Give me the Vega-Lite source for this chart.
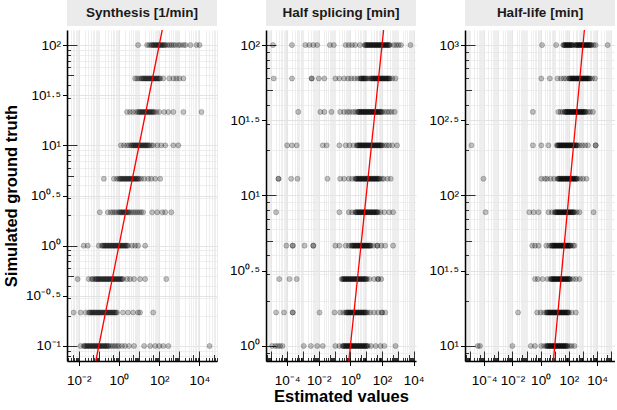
{
  "$schema": "https://vega.github.io/schema/vega-lite/v6.json",
  "background": "white",
  "padding": {"left": 3, "top": 0, "right": 0, "bottom": 0},
  "config": {
    "view": {"stroke": null},
    "font": "Liberation Sans",
    "axis": {
      "labelFont": "Liberation Sans", "labelFontSize": 13.5, "labelColor": "black",
      "labelFlush": false, "labelOverlap": false, "labelPadding": 2,
      "titleFont": "Liberation Sans", "titleFontSize": 16.5, "titleFontWeight": "bold", "titleColor": "black",
      "domainColor": "black", "domainWidth": 1.5, "tickColor": "black"
    },
    "axisBottom": {"labelPadding": 8}
  },
  "datasets": {
    "syn": [
      {"t":100,"e":8.91},{"t":100,"e":25.1},{"t":100,"e":31.6},{"t":100,"e":39.8},{"t":100,"e":44.7},{"t":100,"e":50.1},{"t":100,"e":56.2},{"t":100,"e":63.1},{"t":100,"e":70.8},{"t":100,"e":79.4},{"t":100,"e":89.1},{"t":100,"e":100},{"t":100,"e":112},{"t":100,"e":126},{"t":100,"e":141},{"t":100,"e":158},{"t":100,"e":178},{"t":100,"e":200},{"t":100,"e":251},{"t":100,"e":316},{"t":100,"e":398},{"t":100,"e":501},{"t":100,"e":631},{"t":100,"e":891},{"t":100,"e":1120},{"t":100,"e":1580},{"t":100,"e":2000},{"t":100,"e":3550},{"t":100,"e":7080},{"t":100,"e":10000},
      {"t":46.42,"e":6.31},{"t":46.42,"e":7.94},{"t":46.42,"e":10},{"t":46.42,"e":12.6},{"t":46.42,"e":14.1},{"t":46.42,"e":15.8},{"t":46.42,"e":17.8},{"t":46.42,"e":20},{"t":46.42,"e":22.4},{"t":46.42,"e":25.1},{"t":46.42,"e":28.2},{"t":46.42,"e":31.6},{"t":46.42,"e":35.5},{"t":46.42,"e":39.8},{"t":46.42,"e":44.7},{"t":46.42,"e":50.1},{"t":46.42,"e":56.2},{"t":46.42,"e":63.1},{"t":46.42,"e":70.8},{"t":46.42,"e":79.4},{"t":46.42,"e":89.1},{"t":46.42,"e":100},{"t":46.42,"e":112},{"t":46.42,"e":158},{"t":46.42,"e":316},{"t":46.42,"e":501},{"t":46.42,"e":708},{"t":46.42,"e":1000},{"t":46.42,"e":1580},
      {"t":21.54,"e":2.51},{"t":21.54,"e":3.55},{"t":21.54,"e":5.01},{"t":21.54,"e":7.08},{"t":21.54,"e":8.91},{"t":21.54,"e":10},{"t":21.54,"e":11.2},{"t":21.54,"e":12.6},{"t":21.54,"e":14.1},{"t":21.54,"e":15.8},{"t":21.54,"e":17.8},{"t":21.54,"e":20},{"t":21.54,"e":22.4},{"t":21.54,"e":25.1},{"t":21.54,"e":28.2},{"t":21.54,"e":31.6},{"t":21.54,"e":35.5},{"t":21.54,"e":39.8},{"t":21.54,"e":44.7},{"t":21.54,"e":50.1},{"t":21.54,"e":56.2},{"t":21.54,"e":70.8},{"t":21.54,"e":100},{"t":21.54,"e":178},{"t":21.54,"e":282},{"t":21.54,"e":501},{"t":21.54,"e":1580},{"t":21.54,"e":12600},
      {"t":10,"e":1.26},{"t":10,"e":1.78},{"t":10,"e":2.51},{"t":10,"e":3.16},{"t":10,"e":3.98},{"t":10,"e":4.47},{"t":10,"e":5.01},{"t":10,"e":5.62},{"t":10,"e":6.31},{"t":10,"e":7.08},{"t":10,"e":7.94},{"t":10,"e":8.91},{"t":10,"e":10},{"t":10,"e":11.2},{"t":10,"e":12.6},{"t":10,"e":14.1},{"t":10,"e":15.8},{"t":10,"e":17.8},{"t":10,"e":20},{"t":10,"e":22.4},{"t":10,"e":25.1},{"t":10,"e":28.2},{"t":10,"e":31.6},{"t":10,"e":39.8},{"t":10,"e":50.1},{"t":10,"e":79.4},{"t":10,"e":126},{"t":10,"e":200},{"t":10,"e":501},{"t":10,"e":891},
      {"t":4.642,"e":0.178},{"t":4.642,"e":0.562},{"t":4.642,"e":0.794},{"t":4.642,"e":1},{"t":4.642,"e":1.12},{"t":4.642,"e":1.26},{"t":4.642,"e":1.41},{"t":4.642,"e":1.58},{"t":4.642,"e":1.78},{"t":4.642,"e":2},{"t":4.642,"e":2.24},{"t":4.642,"e":2.51},{"t":4.642,"e":2.82},{"t":4.642,"e":3.16},{"t":4.642,"e":3.55},{"t":4.642,"e":3.98},{"t":4.642,"e":4.47},{"t":4.642,"e":5.01},{"t":4.642,"e":5.62},{"t":4.642,"e":6.31},{"t":4.642,"e":7.08},{"t":4.642,"e":7.94},{"t":4.642,"e":8.91},{"t":4.642,"e":10},{"t":4.642,"e":12.6},{"t":4.642,"e":17.8},{"t":4.642,"e":28.2},{"t":4.642,"e":39.8},{"t":4.642,"e":63.1},{"t":4.642,"e":112},
      {"t":2.154,"e":0.112},{"t":2.154,"e":0.282},{"t":2.154,"e":0.398},{"t":2.154,"e":0.501},{"t":2.154,"e":0.631},{"t":2.154,"e":0.794},{"t":2.154,"e":1},{"t":2.154,"e":1.12},{"t":2.154,"e":1.26},{"t":2.154,"e":1.41},{"t":2.154,"e":1.58},{"t":2.154,"e":1.78},{"t":2.154,"e":2},{"t":2.154,"e":2.24},{"t":2.154,"e":2.51},{"t":2.154,"e":2.82},{"t":2.154,"e":3.16},{"t":2.154,"e":3.98},{"t":2.154,"e":5.01},{"t":2.154,"e":6.31},{"t":2.154,"e":7.94},{"t":2.154,"e":10},{"t":2.154,"e":12.6},{"t":2.154,"e":15.8},{"t":2.154,"e":44.7},{"t":2.154,"e":79.4},{"t":2.154,"e":141},{"t":2.154,"e":200},{"t":2.154,"e":398},
      {"t":1,"e":0.0178},{"t":1,"e":0.0282},{"t":1,"e":0.1},{"t":1,"e":0.141},{"t":1,"e":0.158},{"t":1,"e":0.178},{"t":1,"e":0.2},{"t":1,"e":0.224},{"t":1,"e":0.251},{"t":1,"e":0.282},{"t":1,"e":0.316},{"t":1,"e":0.355},{"t":1,"e":0.398},{"t":1,"e":0.447},{"t":1,"e":0.501},{"t":1,"e":0.562},{"t":1,"e":0.631},{"t":1,"e":0.708},{"t":1,"e":0.794},{"t":1,"e":0.891},{"t":1,"e":1},{"t":1,"e":1.12},{"t":1,"e":1.26},{"t":1,"e":1.41},{"t":1,"e":1.58},{"t":1,"e":1.78},{"t":1,"e":2},{"t":1,"e":2.24},{"t":1,"e":2.51},{"t":1,"e":2.82},{"t":1,"e":4.47},{"t":1,"e":6.31},{"t":1,"e":8.91},{"t":1,"e":20},
      {"t":0.4642,"e":0.00891},{"t":0.4642,"e":0.0316},{"t":0.4642,"e":0.0447},{"t":0.4642,"e":0.0501},{"t":0.4642,"e":0.0631},{"t":0.4642,"e":0.0708},{"t":0.4642,"e":0.0794},{"t":0.4642,"e":0.0891},{"t":0.4642,"e":0.1},{"t":0.4642,"e":0.112},{"t":0.4642,"e":0.126},{"t":0.4642,"e":0.141},{"t":0.4642,"e":0.158},{"t":0.4642,"e":0.178},{"t":0.4642,"e":0.2},{"t":0.4642,"e":0.224},{"t":0.4642,"e":0.251},{"t":0.4642,"e":0.282},{"t":0.4642,"e":0.316},{"t":0.4642,"e":0.355},{"t":0.4642,"e":0.398},{"t":0.4642,"e":0.447},{"t":0.4642,"e":0.501},{"t":0.4642,"e":0.562},{"t":0.4642,"e":0.631},{"t":0.4642,"e":0.708},{"t":0.4642,"e":0.794},{"t":0.4642,"e":0.891},{"t":0.4642,"e":1},{"t":0.4642,"e":1.12},{"t":0.4642,"e":1.26},{"t":0.4642,"e":1.41},{"t":0.4642,"e":1.58},{"t":0.4642,"e":2.51},{"t":0.4642,"e":3.55},{"t":0.4642,"e":5.62},{"t":0.4642,"e":11.2},{"t":0.4642,"e":20},{"t":0.4642,"e":224},
      {"t":0.2154,"e":0.00562},{"t":0.2154,"e":0.0126},{"t":0.2154,"e":0.0224},{"t":0.2154,"e":0.0316},{"t":0.2154,"e":0.0355},{"t":0.2154,"e":0.0398},{"t":0.2154,"e":0.0447},{"t":0.2154,"e":0.0501},{"t":0.2154,"e":0.0562},{"t":0.2154,"e":0.0631},{"t":0.2154,"e":0.0708},{"t":0.2154,"e":0.0794},{"t":0.2154,"e":0.0891},{"t":0.2154,"e":0.1},{"t":0.2154,"e":0.112},{"t":0.2154,"e":0.126},{"t":0.2154,"e":0.141},{"t":0.2154,"e":0.158},{"t":0.2154,"e":0.178},{"t":0.2154,"e":0.2},{"t":0.2154,"e":0.224},{"t":0.2154,"e":0.251},{"t":0.2154,"e":0.282},{"t":0.2154,"e":0.316},{"t":0.2154,"e":0.355},{"t":0.2154,"e":0.398},{"t":0.2154,"e":0.447},{"t":0.2154,"e":0.501},{"t":0.2154,"e":0.562},{"t":0.2154,"e":0.631},{"t":0.2154,"e":0.708},{"t":0.2154,"e":0.794},{"t":0.2154,"e":1.58},{"t":0.2154,"e":2.82},{"t":0.2154,"e":5.01},{"t":0.2154,"e":8.91},{"t":0.2154,"e":11.2},{"t":0.2154,"e":50.1},
      {"t":0.1,"e":0.0126},{"t":0.1,"e":0.0178},{"t":0.1,"e":0.02},{"t":0.1,"e":0.0224},{"t":0.1,"e":0.0251},{"t":0.1,"e":0.0282},{"t":0.1,"e":0.0316},{"t":0.1,"e":0.0355},{"t":0.1,"e":0.0398},{"t":0.1,"e":0.0447},{"t":0.1,"e":0.0501},{"t":0.1,"e":0.0562},{"t":0.1,"e":0.0631},{"t":0.1,"e":0.0708},{"t":0.1,"e":0.0794},{"t":0.1,"e":0.0891},{"t":0.1,"e":0.1},{"t":0.1,"e":0.112},{"t":0.1,"e":0.126},{"t":0.1,"e":0.141},{"t":0.1,"e":0.158},{"t":0.1,"e":0.178},{"t":0.1,"e":0.2},{"t":0.1,"e":0.224},{"t":0.1,"e":0.251},{"t":0.1,"e":0.282},{"t":0.1,"e":0.316},{"t":0.1,"e":0.398},{"t":0.1,"e":0.501},{"t":0.1,"e":0.631},{"t":0.1,"e":0.794},{"t":0.1,"e":1},{"t":0.1,"e":1.41},{"t":0.1,"e":2},{"t":0.1,"e":3.16},{"t":0.1,"e":5.62},{"t":0.1,"e":17.8},{"t":0.1,"e":35.5},{"t":0.1,"e":63.1},{"t":0.1,"e":100},{"t":0.1,"e":158},{"t":0.1,"e":282},{"t":0.1,"e":31600}
    ],
    "spl": [
      {"t":100,"e":1.26e-5},{"t":100,"e":2e-4},{"t":100,"e":1.41e-3},{"t":100,"e":2.51e-3},{"t":100,"e":4.47e-3},{"t":100,"e":7.94e-3},{"t":100,"e":0.0501},{"t":100,"e":0.0891},{"t":100,"e":0.501},{"t":100,"e":0.794},{"t":100,"e":1.26},{"t":100,"e":2},{"t":100,"e":3.98},{"t":100,"e":7.94},{"t":100,"e":8.91},{"t":100,"e":10},{"t":100,"e":11.2},{"t":100,"e":12.6},{"t":100,"e":14.1},{"t":100,"e":15.8},{"t":100,"e":17.8},{"t":100,"e":20},{"t":100,"e":22.4},{"t":100,"e":25.1},{"t":100,"e":28.2},{"t":100,"e":31.6},{"t":100,"e":35.5},{"t":100,"e":39.8},{"t":100,"e":44.7},{"t":100,"e":50.1},{"t":100,"e":56.2},{"t":100,"e":63.1},{"t":100,"e":70.8},{"t":100,"e":79.4},{"t":100,"e":89.1},{"t":100,"e":100},{"t":100,"e":112},{"t":100,"e":126},{"t":100,"e":141},{"t":100,"e":158},{"t":100,"e":178},{"t":100,"e":200},{"t":100,"e":224},{"t":100,"e":251},{"t":100,"e":282},{"t":100,"e":316},{"t":100,"e":562},{"t":100,"e":794},{"t":100,"e":1120},{"t":100,"e":1580},{"t":100,"e":6310},
      {"t":59.95,"e":1.41e-5},{"t":59.95,"e":2e-4},{"t":59.95,"e":3.55e-3},{"t":59.95,"e":3.55e-3},{"t":59.95,"e":0.01},{"t":59.95,"e":0.0224},{"t":59.95,"e":0.112},{"t":59.95,"e":0.2},{"t":59.95,"e":0.398},{"t":59.95,"e":0.708},{"t":59.95,"e":1.12},{"t":59.95,"e":1.78},{"t":59.95,"e":2.82},{"t":59.95,"e":3.98},{"t":59.95,"e":4.47},{"t":59.95,"e":5.01},{"t":59.95,"e":5.62},{"t":59.95,"e":6.31},{"t":59.95,"e":7.08},{"t":59.95,"e":7.94},{"t":59.95,"e":8.91},{"t":59.95,"e":10},{"t":59.95,"e":12.6},{"t":59.95,"e":15.8},{"t":59.95,"e":20},{"t":59.95,"e":22.4},{"t":59.95,"e":25.1},{"t":59.95,"e":28.2},{"t":59.95,"e":31.6},{"t":59.95,"e":35.5},{"t":59.95,"e":39.8},{"t":59.95,"e":44.7},{"t":59.95,"e":50.1},{"t":59.95,"e":56.2},{"t":59.95,"e":63.1},{"t":59.95,"e":70.8},{"t":59.95,"e":79.4},{"t":59.95,"e":89.1},{"t":59.95,"e":100},{"t":59.95,"e":112},{"t":59.95,"e":126},{"t":59.95,"e":141},{"t":59.95,"e":158},{"t":59.95,"e":178},{"t":59.95,"e":200},{"t":59.95,"e":224},{"t":59.95,"e":251},{"t":59.95,"e":282},{"t":59.95,"e":316},{"t":59.95,"e":447},{"t":59.95,"e":708},
      {"t":35.94,"e":5.01e-4},{"t":35.94,"e":0.0126},{"t":35.94,"e":0.0224},{"t":35.94,"e":0.0631},{"t":35.94,"e":0.224},{"t":35.94,"e":0.398},{"t":35.94,"e":0.631},{"t":35.94,"e":0.891},{"t":35.94,"e":1.41},{"t":35.94,"e":2},{"t":35.94,"e":2.82},{"t":35.94,"e":3.16},{"t":35.94,"e":3.55},{"t":35.94,"e":3.98},{"t":35.94,"e":4.47},{"t":35.94,"e":5.01},{"t":35.94,"e":5.62},{"t":35.94,"e":6.31},{"t":35.94,"e":7.08},{"t":35.94,"e":7.94},{"t":35.94,"e":8.91},{"t":35.94,"e":10},{"t":35.94,"e":11.2},{"t":35.94,"e":12.6},{"t":35.94,"e":14.1},{"t":35.94,"e":15.8},{"t":35.94,"e":17.8},{"t":35.94,"e":20},{"t":35.94,"e":22.4},{"t":35.94,"e":25.1},{"t":35.94,"e":28.2},{"t":35.94,"e":31.6},{"t":35.94,"e":35.5},{"t":35.94,"e":39.8},{"t":35.94,"e":44.7},{"t":35.94,"e":50.1},{"t":35.94,"e":56.2},{"t":35.94,"e":63.1},{"t":35.94,"e":70.8},{"t":35.94,"e":79.4},{"t":35.94,"e":89.1},{"t":35.94,"e":100},{"t":35.94,"e":141},{"t":35.94,"e":200},{"t":35.94,"e":282},{"t":35.94,"e":398},{"t":35.94,"e":631},
      {"t":21.54,"e":1e-4},{"t":21.54,"e":2e-4},{"t":21.54,"e":3.98e-4},{"t":21.54,"e":0.0178},{"t":21.54,"e":0.0316},{"t":21.54,"e":0.2},{"t":21.54,"e":0.501},{"t":21.54,"e":0.891},{"t":21.54,"e":1.58},{"t":21.54,"e":2.51},{"t":21.54,"e":2.82},{"t":21.54,"e":3.16},{"t":21.54,"e":3.55},{"t":21.54,"e":3.98},{"t":21.54,"e":4.47},{"t":21.54,"e":5.01},{"t":21.54,"e":5.62},{"t":21.54,"e":6.31},{"t":21.54,"e":7.08},{"t":21.54,"e":7.94},{"t":21.54,"e":8.91},{"t":21.54,"e":10},{"t":21.54,"e":11.2},{"t":21.54,"e":12.6},{"t":21.54,"e":14.1},{"t":21.54,"e":15.8},{"t":21.54,"e":17.8},{"t":21.54,"e":20},{"t":21.54,"e":22.4},{"t":21.54,"e":25.1},{"t":21.54,"e":28.2},{"t":21.54,"e":31.6},{"t":21.54,"e":35.5},{"t":21.54,"e":39.8},{"t":21.54,"e":44.7},{"t":21.54,"e":50.1},{"t":21.54,"e":56.2},{"t":21.54,"e":63.1},{"t":21.54,"e":70.8},{"t":21.54,"e":79.4},{"t":21.54,"e":89.1},{"t":21.54,"e":100},{"t":21.54,"e":141},{"t":21.54,"e":200},{"t":21.54,"e":282},{"t":21.54,"e":447},{"t":21.54,"e":891},
      {"t":12.92,"e":2.82e-5},{"t":12.92,"e":2.82e-5},{"t":12.92,"e":1.78e-4},{"t":12.92,"e":4.47e-4},{"t":12.92,"e":0.0355},{"t":12.92,"e":0.224},{"t":12.92,"e":0.398},{"t":12.92,"e":0.794},{"t":12.92,"e":1.26},{"t":12.92,"e":2},{"t":12.92,"e":2.24},{"t":12.92,"e":2.51},{"t":12.92,"e":2.82},{"t":12.92,"e":3.16},{"t":12.92,"e":3.55},{"t":12.92,"e":3.98},{"t":12.92,"e":4.47},{"t":12.92,"e":5.01},{"t":12.92,"e":5.62},{"t":12.92,"e":6.31},{"t":12.92,"e":7.08},{"t":12.92,"e":7.94},{"t":12.92,"e":8.91},{"t":12.92,"e":10},{"t":12.92,"e":11.2},{"t":12.92,"e":12.6},{"t":12.92,"e":14.1},{"t":12.92,"e":15.8},{"t":12.92,"e":17.8},{"t":12.92,"e":20},{"t":12.92,"e":22.4},{"t":12.92,"e":25.1},{"t":12.92,"e":28.2},{"t":12.92,"e":31.6},{"t":12.92,"e":35.5},{"t":12.92,"e":39.8},{"t":12.92,"e":44.7},{"t":12.92,"e":50.1},{"t":12.92,"e":56.2},{"t":12.92,"e":63.1},{"t":12.92,"e":70.8},{"t":12.92,"e":100},{"t":12.92,"e":126},{"t":12.92,"e":224},{"t":12.92,"e":355},
      {"t":7.743,"e":2e-5},{"t":7.743,"e":0.2},{"t":7.743,"e":0.794},{"t":7.743,"e":1.26},{"t":7.743,"e":2},{"t":7.743,"e":2.24},{"t":7.743,"e":2.51},{"t":7.743,"e":2.82},{"t":7.743,"e":3.16},{"t":7.743,"e":3.55},{"t":7.743,"e":3.98},{"t":7.743,"e":4.47},{"t":7.743,"e":5.01},{"t":7.743,"e":5.62},{"t":7.743,"e":6.31},{"t":7.743,"e":7.08},{"t":7.743,"e":7.94},{"t":7.743,"e":8.91},{"t":7.743,"e":10},{"t":7.743,"e":11.2},{"t":7.743,"e":12.6},{"t":7.743,"e":14.1},{"t":7.743,"e":15.8},{"t":7.743,"e":17.8},{"t":7.743,"e":20},{"t":7.743,"e":22.4},{"t":7.743,"e":25.1},{"t":7.743,"e":28.2},{"t":7.743,"e":31.6},{"t":7.743,"e":35.5},{"t":7.743,"e":39.8},{"t":7.743,"e":44.7},{"t":7.743,"e":50.1},{"t":7.743,"e":56.2},{"t":7.743,"e":79.4},{"t":7.743,"e":141},{"t":7.743,"e":282},{"t":7.743,"e":501},
      {"t":4.642,"e":8.91e-5},{"t":4.642,"e":2.24e-4},{"t":4.642,"e":2.24e-4},{"t":4.642,"e":1.26e-3},{"t":4.642,"e":4.47e-3},{"t":4.642,"e":4.47e-3},{"t":4.642,"e":0.112},{"t":4.642,"e":0.2},{"t":4.642,"e":0.501},{"t":4.642,"e":0.794},{"t":4.642,"e":1.12},{"t":4.642,"e":1.26},{"t":4.642,"e":1.41},{"t":4.642,"e":1.58},{"t":4.642,"e":1.78},{"t":4.642,"e":2},{"t":4.642,"e":2.24},{"t":4.642,"e":2.51},{"t":4.642,"e":2.82},{"t":4.642,"e":3.16},{"t":4.642,"e":3.55},{"t":4.642,"e":3.98},{"t":4.642,"e":4.47},{"t":4.642,"e":5.01},{"t":4.642,"e":5.62},{"t":4.642,"e":6.31},{"t":4.642,"e":7.08},{"t":4.642,"e":7.94},{"t":4.642,"e":8.91},{"t":4.642,"e":10},{"t":4.642,"e":11.2},{"t":4.642,"e":12.6},{"t":4.642,"e":14.1},{"t":4.642,"e":15.8},{"t":4.642,"e":17.8},{"t":4.642,"e":20},{"t":4.642,"e":28.2},{"t":4.642,"e":50.1},{"t":4.642,"e":50.1},{"t":4.642,"e":89.1},{"t":4.642,"e":158},{"t":4.642,"e":501},
      {"t":2.783,"e":3.16e-5},{"t":2.783,"e":1.41e-4},{"t":2.783,"e":3.98e-4},{"t":2.783,"e":0.282},{"t":2.783,"e":0.316},{"t":2.783,"e":0.355},{"t":2.783,"e":0.398},{"t":2.783,"e":0.447},{"t":2.783,"e":0.501},{"t":2.783,"e":0.562},{"t":2.783,"e":0.631},{"t":2.783,"e":0.708},{"t":2.783,"e":0.794},{"t":2.783,"e":0.891},{"t":2.783,"e":1},{"t":2.783,"e":1.12},{"t":2.783,"e":1.26},{"t":2.783,"e":1.41},{"t":2.783,"e":1.58},{"t":2.783,"e":1.78},{"t":2.783,"e":2},{"t":2.783,"e":2.24},{"t":2.783,"e":2.51},{"t":2.783,"e":2.82},{"t":2.783,"e":3.16},{"t":2.783,"e":3.55},{"t":2.783,"e":3.98},{"t":2.783,"e":4.47},{"t":2.783,"e":5.01},{"t":2.783,"e":5.62},{"t":2.783,"e":6.31},{"t":2.783,"e":7.08},{"t":2.783,"e":7.94},{"t":2.783,"e":8.91},{"t":2.783,"e":10},{"t":2.783,"e":11.2},{"t":2.783,"e":15.8},{"t":2.783,"e":31.6},{"t":2.783,"e":56.2},{"t":2.783,"e":56.2},{"t":2.783,"e":89.1},
      {"t":1.668,"e":2e-5},{"t":1.668,"e":6.31e-5},{"t":1.668,"e":2.24e-4},{"t":1.668,"e":2.24e-4},{"t":1.668,"e":0.0112},{"t":1.668,"e":0.1},{"t":1.668,"e":0.224},{"t":1.668,"e":0.355},{"t":1.668,"e":0.501},{"t":1.668,"e":0.562},{"t":1.668,"e":0.631},{"t":1.668,"e":0.708},{"t":1.668,"e":0.794},{"t":1.668,"e":0.891},{"t":1.668,"e":1},{"t":1.668,"e":1.12},{"t":1.668,"e":1.26},{"t":1.668,"e":1.41},{"t":1.668,"e":1.58},{"t":1.668,"e":1.78},{"t":1.668,"e":2},{"t":1.668,"e":2.24},{"t":1.668,"e":2.51},{"t":1.668,"e":2.82},{"t":1.668,"e":3.16},{"t":1.668,"e":3.55},{"t":1.668,"e":3.98},{"t":1.668,"e":4.47},{"t":1.668,"e":5.01},{"t":1.668,"e":5.62},{"t":1.668,"e":6.31},{"t":1.668,"e":7.08},{"t":1.668,"e":7.94},{"t":1.668,"e":8.91},{"t":1.668,"e":10},{"t":1.668,"e":12.6},{"t":1.668,"e":17.8},{"t":1.668,"e":31.6},{"t":1.668,"e":56.2},{"t":1.668,"e":100},{"t":1.668,"e":100},{"t":1.668,"e":158},
      {"t":1,"e":1.12e-5},{"t":1,"e":1.78e-5},{"t":1,"e":2.51e-5},{"t":1,"e":3.55e-5},{"t":1,"e":5.01e-5},{"t":1,"e":1.12e-3},{"t":1,"e":3.16e-3},{"t":1,"e":7.94e-3},{"t":1,"e":0.0178},{"t":1,"e":0.112},{"t":1,"e":0.2},{"t":1,"e":0.316},{"t":1,"e":0.355},{"t":1,"e":0.398},{"t":1,"e":0.447},{"t":1,"e":0.501},{"t":1,"e":0.562},{"t":1,"e":0.631},{"t":1,"e":0.708},{"t":1,"e":0.794},{"t":1,"e":0.891},{"t":1,"e":1},{"t":1,"e":1.12},{"t":1,"e":1.26},{"t":1,"e":1.41},{"t":1,"e":1.58},{"t":1,"e":1.78},{"t":1,"e":2},{"t":1,"e":2.24},{"t":1,"e":2.51},{"t":1,"e":2.82},{"t":1,"e":3.16},{"t":1,"e":3.55},{"t":1,"e":3.98},{"t":1,"e":4.47},{"t":1,"e":5.01},{"t":1,"e":5.62},{"t":1,"e":6.31},{"t":1,"e":7.08},{"t":1,"e":7.94},{"t":1,"e":8.91},{"t":1,"e":10},{"t":1,"e":11.2},{"t":1,"e":12.6},{"t":1,"e":20},{"t":1,"e":39.8},{"t":1,"e":79.4},{"t":1,"e":141},{"t":1,"e":708}
    ],
    "hl": [
      {"t":1000,"e":1.26},{"t":1000,"e":12.6},{"t":1000,"e":39.8},{"t":1000,"e":44.7},{"t":1000,"e":50.1},{"t":1000,"e":56.2},{"t":1000,"e":63.1},{"t":1000,"e":70.8},{"t":1000,"e":79.4},{"t":1000,"e":89.1},{"t":1000,"e":100},{"t":1000,"e":112},{"t":1000,"e":126},{"t":1000,"e":141},{"t":1000,"e":158},{"t":1000,"e":178},{"t":1000,"e":200},{"t":1000,"e":282},{"t":1000,"e":316},{"t":1000,"e":355},{"t":1000,"e":398},{"t":1000,"e":447},{"t":1000,"e":501},{"t":1000,"e":562},{"t":1000,"e":631},{"t":1000,"e":708},{"t":1000,"e":794},{"t":1000,"e":891},{"t":1000,"e":1000},{"t":1000,"e":1120},{"t":1000,"e":1260},{"t":1000,"e":1410},{"t":1000,"e":1580},{"t":1000,"e":1780},{"t":1000,"e":2000},{"t":1000,"e":2240},{"t":1000,"e":2510},{"t":1000,"e":2820},{"t":1000,"e":3160},{"t":1000,"e":3550},{"t":1000,"e":3980},{"t":1000,"e":5620},{"t":1000,"e":7940},{"t":1000,"e":56200},
      {"t":599.5,"e":1.12},{"t":599.5,"e":4.47},{"t":599.5,"e":15.8},{"t":599.5,"e":28.2},{"t":599.5,"e":44.7},{"t":599.5,"e":63.1},{"t":599.5,"e":100},{"t":599.5,"e":112},{"t":599.5,"e":126},{"t":599.5,"e":141},{"t":599.5,"e":158},{"t":599.5,"e":178},{"t":599.5,"e":200},{"t":599.5,"e":224},{"t":599.5,"e":251},{"t":599.5,"e":282},{"t":599.5,"e":316},{"t":599.5,"e":355},{"t":599.5,"e":398},{"t":599.5,"e":447},{"t":599.5,"e":501},{"t":599.5,"e":562},{"t":599.5,"e":631},{"t":599.5,"e":708},{"t":599.5,"e":794},{"t":599.5,"e":891},{"t":599.5,"e":1000},{"t":599.5,"e":1120},{"t":599.5,"e":1260},{"t":599.5,"e":1410},{"t":599.5,"e":1580},{"t":599.5,"e":1780},{"t":599.5,"e":2000},{"t":599.5,"e":2240},{"t":599.5,"e":2510},{"t":599.5,"e":2820},{"t":599.5,"e":3160},{"t":599.5,"e":4470},{"t":599.5,"e":7080},
      {"t":359.4,"e":0.282},{"t":359.4,"e":17.8},{"t":359.4,"e":25.1},{"t":359.4,"e":35.5},{"t":359.4,"e":50.1},{"t":359.4,"e":56.2},{"t":359.4,"e":63.1},{"t":359.4,"e":70.8},{"t":359.4,"e":79.4},{"t":359.4,"e":89.1},{"t":359.4,"e":100},{"t":359.4,"e":112},{"t":359.4,"e":126},{"t":359.4,"e":141},{"t":359.4,"e":158},{"t":359.4,"e":178},{"t":359.4,"e":200},{"t":359.4,"e":224},{"t":359.4,"e":251},{"t":359.4,"e":282},{"t":359.4,"e":316},{"t":359.4,"e":355},{"t":359.4,"e":398},{"t":359.4,"e":447},{"t":359.4,"e":501},{"t":359.4,"e":562},{"t":359.4,"e":631},{"t":359.4,"e":708},{"t":359.4,"e":794},{"t":359.4,"e":891},{"t":359.4,"e":1000},{"t":359.4,"e":1120},{"t":359.4,"e":1260},{"t":359.4,"e":1410},{"t":359.4,"e":1580},{"t":359.4,"e":2240},{"t":359.4,"e":3160},{"t":359.4,"e":5010},
      {"t":215.4,"e":1.26e-5},{"t":215.4,"e":0.282},{"t":215.4,"e":1.12},{"t":215.4,"e":3.55},{"t":215.4,"e":14.1},{"t":215.4,"e":15.8},{"t":215.4,"e":17.8},{"t":215.4,"e":20},{"t":215.4,"e":22.4},{"t":215.4,"e":25.1},{"t":215.4,"e":28.2},{"t":215.4,"e":31.6},{"t":215.4,"e":35.5},{"t":215.4,"e":39.8},{"t":215.4,"e":44.7},{"t":215.4,"e":50.1},{"t":215.4,"e":56.2},{"t":215.4,"e":63.1},{"t":215.4,"e":70.8},{"t":215.4,"e":79.4},{"t":215.4,"e":89.1},{"t":215.4,"e":100},{"t":215.4,"e":112},{"t":215.4,"e":126},{"t":215.4,"e":141},{"t":215.4,"e":158},{"t":215.4,"e":178},{"t":215.4,"e":200},{"t":215.4,"e":224},{"t":215.4,"e":251},{"t":215.4,"e":282},{"t":215.4,"e":316},{"t":215.4,"e":355},{"t":215.4,"e":398},{"t":215.4,"e":562},{"t":215.4,"e":891},{"t":215.4,"e":1410},{"t":215.4,"e":2240},{"t":215.4,"e":7940},{"t":215.4,"e":7940},
      {"t":129.2,"e":8.91e-5},{"t":129.2,"e":1.12},{"t":129.2,"e":2},{"t":129.2,"e":2.82},{"t":129.2,"e":5.01},{"t":129.2,"e":8.91},{"t":129.2,"e":15.8},{"t":129.2,"e":17.8},{"t":129.2,"e":20},{"t":129.2,"e":22.4},{"t":129.2,"e":25.1},{"t":129.2,"e":28.2},{"t":129.2,"e":31.6},{"t":129.2,"e":35.5},{"t":129.2,"e":39.8},{"t":129.2,"e":44.7},{"t":129.2,"e":50.1},{"t":129.2,"e":56.2},{"t":129.2,"e":63.1},{"t":129.2,"e":70.8},{"t":129.2,"e":79.4},{"t":129.2,"e":89.1},{"t":129.2,"e":100},{"t":129.2,"e":112},{"t":129.2,"e":126},{"t":129.2,"e":141},{"t":129.2,"e":158},{"t":129.2,"e":178},{"t":129.2,"e":200},{"t":129.2,"e":224},{"t":129.2,"e":251},{"t":129.2,"e":282},{"t":129.2,"e":316},{"t":129.2,"e":355},{"t":129.2,"e":398},{"t":129.2,"e":631},{"t":129.2,"e":1000},{"t":129.2,"e":1780},
      {"t":77.43,"e":1.26e-4},{"t":77.43,"e":0.158},{"t":77.43,"e":0.316},{"t":77.43,"e":0.708},{"t":77.43,"e":3.55},{"t":77.43,"e":6.31},{"t":77.43,"e":10},{"t":77.43,"e":11.2},{"t":77.43,"e":12.6},{"t":77.43,"e":14.1},{"t":77.43,"e":15.8},{"t":77.43,"e":17.8},{"t":77.43,"e":20},{"t":77.43,"e":22.4},{"t":77.43,"e":25.1},{"t":77.43,"e":28.2},{"t":77.43,"e":31.6},{"t":77.43,"e":35.5},{"t":77.43,"e":39.8},{"t":77.43,"e":44.7},{"t":77.43,"e":50.1},{"t":77.43,"e":56.2},{"t":77.43,"e":63.1},{"t":77.43,"e":70.8},{"t":77.43,"e":79.4},{"t":77.43,"e":89.1},{"t":77.43,"e":100},{"t":77.43,"e":112},{"t":77.43,"e":126},{"t":77.43,"e":141},{"t":77.43,"e":158},{"t":77.43,"e":178},{"t":77.43,"e":200},{"t":77.43,"e":224},{"t":77.43,"e":251},{"t":77.43,"e":355},{"t":77.43,"e":562},{"t":77.43,"e":5620},
      {"t":46.42,"e":0.251},{"t":46.42,"e":0.398},{"t":46.42,"e":0.708},{"t":46.42,"e":2.51},{"t":46.42,"e":3.98},{"t":46.42,"e":5.62},{"t":46.42,"e":6.31},{"t":46.42,"e":7.08},{"t":46.42,"e":7.94},{"t":46.42,"e":8.91},{"t":46.42,"e":10},{"t":46.42,"e":11.2},{"t":46.42,"e":12.6},{"t":46.42,"e":14.1},{"t":46.42,"e":15.8},{"t":46.42,"e":17.8},{"t":46.42,"e":20},{"t":46.42,"e":22.4},{"t":46.42,"e":25.1},{"t":46.42,"e":28.2},{"t":46.42,"e":31.6},{"t":46.42,"e":35.5},{"t":46.42,"e":39.8},{"t":46.42,"e":44.7},{"t":46.42,"e":50.1},{"t":46.42,"e":56.2},{"t":46.42,"e":63.1},{"t":46.42,"e":70.8},{"t":46.42,"e":79.4},{"t":46.42,"e":89.1},{"t":46.42,"e":100},{"t":46.42,"e":112},{"t":46.42,"e":126},{"t":46.42,"e":141},{"t":46.42,"e":200},{"t":46.42,"e":251},
      {"t":27.83,"e":0.398},{"t":27.83,"e":0.631},{"t":27.83,"e":1.41},{"t":27.83,"e":3.16},{"t":27.83,"e":5.01},{"t":27.83,"e":5.62},{"t":27.83,"e":6.31},{"t":27.83,"e":7.08},{"t":27.83,"e":7.94},{"t":27.83,"e":8.91},{"t":27.83,"e":10},{"t":27.83,"e":11.2},{"t":27.83,"e":12.6},{"t":27.83,"e":14.1},{"t":27.83,"e":15.8},{"t":27.83,"e":17.8},{"t":27.83,"e":20},{"t":27.83,"e":22.4},{"t":27.83,"e":25.1},{"t":27.83,"e":28.2},{"t":27.83,"e":31.6},{"t":27.83,"e":35.5},{"t":27.83,"e":39.8},{"t":27.83,"e":44.7},{"t":27.83,"e":50.1},{"t":27.83,"e":56.2},{"t":27.83,"e":63.1},{"t":27.83,"e":70.8},{"t":27.83,"e":79.4},{"t":27.83,"e":89.1},{"t":27.83,"e":100},{"t":27.83,"e":112},{"t":27.83,"e":126},{"t":27.83,"e":200},{"t":27.83,"e":316},{"t":27.83,"e":562},
      {"t":16.68,"e":0.0251},{"t":16.68,"e":0.562},{"t":16.68,"e":1},{"t":16.68,"e":1.78},{"t":16.68,"e":2.51},{"t":16.68,"e":2.82},{"t":16.68,"e":3.16},{"t":16.68,"e":3.55},{"t":16.68,"e":3.98},{"t":16.68,"e":4.47},{"t":16.68,"e":5.01},{"t":16.68,"e":5.62},{"t":16.68,"e":6.31},{"t":16.68,"e":7.08},{"t":16.68,"e":7.94},{"t":16.68,"e":8.91},{"t":16.68,"e":10},{"t":16.68,"e":11.2},{"t":16.68,"e":12.6},{"t":16.68,"e":14.1},{"t":16.68,"e":15.8},{"t":16.68,"e":17.8},{"t":16.68,"e":20},{"t":16.68,"e":22.4},{"t":16.68,"e":25.1},{"t":16.68,"e":28.2},{"t":16.68,"e":31.6},{"t":16.68,"e":35.5},{"t":16.68,"e":39.8},{"t":16.68,"e":44.7},{"t":16.68,"e":50.1},{"t":16.68,"e":56.2},{"t":16.68,"e":63.1},{"t":16.68,"e":70.8},{"t":16.68,"e":79.4},{"t":16.68,"e":89.1},{"t":16.68,"e":100},{"t":16.68,"e":158},{"t":16.68,"e":316},
      {"t":10,"e":3.55e-5},{"t":10,"e":5.01e-5},{"t":10,"e":0.01},{"t":10,"e":0.2},{"t":10,"e":0.398},{"t":10,"e":1.12},{"t":10,"e":1.78},{"t":10,"e":2.51},{"t":10,"e":2.82},{"t":10,"e":3.16},{"t":10,"e":3.55},{"t":10,"e":3.98},{"t":10,"e":4.47},{"t":10,"e":5.01},{"t":10,"e":5.62},{"t":10,"e":6.31},{"t":10,"e":7.08},{"t":10,"e":7.94},{"t":10,"e":8.91},{"t":10,"e":10},{"t":10,"e":11.2},{"t":10,"e":12.6},{"t":10,"e":14.1},{"t":10,"e":15.8},{"t":10,"e":17.8},{"t":10,"e":20},{"t":10,"e":22.4},{"t":10,"e":25.1},{"t":10,"e":28.2},{"t":10,"e":31.6},{"t":10,"e":35.5},{"t":10,"e":39.8},{"t":10,"e":44.7},{"t":10,"e":50.1},{"t":10,"e":56.2},{"t":10,"e":63.1},{"t":10,"e":70.8},{"t":10,"e":79.4},{"t":10,"e":112},{"t":10,"e":158},{"t":10,"e":251}
    ]
  },
  "spacing": 1,
  "vconcat": [
    {
      "bounds": "flush",
      "spacing": 49,
      "hconcat": [
        {
          "width": 150, "height": 26,
          "view": {"fill": "#ebebeb", "stroke": null},
          "data": {"values": [{"label": "Synthesis [1/min]"}]},
          "mark": {"type": "text", "font": "Liberation Sans", "fontSize": 13.5, "fontWeight": "bold", "color": "#1a1a1a"},
          "encoding": {"text": {"field": "label"}}
        },
        {
          "width": 150, "height": 26,
          "view": {"fill": "#ebebeb", "stroke": null},
          "data": {"values": [{"label": "Half splicing [min]"}]},
          "mark": {"type": "text", "font": "Liberation Sans", "fontSize": 13.5, "fontWeight": "bold", "color": "#1a1a1a"},
          "encoding": {"text": {"field": "label"}}
        },
        {
          "width": 150, "height": 26,
          "view": {"fill": "#ebebeb", "stroke": null},
          "data": {"values": [{"label": "Half-life [min]"}]},
          "mark": {"type": "text", "font": "Liberation Sans", "fontSize": 13.5, "fontWeight": "bold", "color": "#1a1a1a"},
          "encoding": {"text": {"field": "label"}}
        }
      ]
    },
    {
      "bounds": "flush",
      "spacing": 49,
      "hconcat": [
        {
          "width": 150, "height": 331,
          "resolve": {"axis": {"x": "independent", "y": "independent"}},
          "layer": [
            {
              "data": {"name": "syn"},
              "mark": {"type": "circle", "size": 26, "fill": "black", "fillOpacity": 0.24, "stroke": "black", "strokeOpacity": 0.3, "strokeWidth": 0.7},
              "encoding": {
                "x": {"field": "e", "type": "quantitative",
                  "scale": {"type": "log", "domain": [0.00263, 74100], "nice": false},
                  "axis": {"orient": "bottom", "values": [0.01, 1, 100, 10000], "title": null, "grid": true, "gridColor": "#e2e2e2", "gridWidth": 1, "tickSize": 4.5, "tickWidth": 1,
                    "labelExpr": "'10'+replace(replace(replace(replace(replace(replace(replace(replace(''+round(log(datum.value)/LN10*2)/2,'-','⁻'),'.','·'),'0','⁰'),'1','¹'),'2','²'),'3','³'),'4','⁴'),'5','⁵')"}},
                "y": {"field": "t", "type": "quantitative",
                  "scale": {"type": "log", "domain": [0.0708, 141.3], "nice": false},
                  "axis": {"orient": "left", "values": [0.1, 0.316227766, 1, 3.16227766, 10, 31.6227766, 100], "title": "Simulated ground truth", "titlePadding": 6, "grid": true, "gridColor": "#e2e2e2", "gridWidth": 1, "tickSize": 4.5, "tickWidth": 1,
                    "labelExpr": "'10'+replace(replace(replace(replace(replace(replace(replace(replace(''+round(log(datum.value)/LN10*2)/2,'-','⁻'),'.','·'),'0','⁰'),'1','¹'),'2','²'),'3','³'),'4','⁴'),'5','⁵')"}}
              }
            },
            {
              "data": {"values": [{"e": 0.0708, "t": 0.0708}, {"e": 141.3, "t": 141.3}]},
              "mark": {"type": "line", "color": "red", "strokeWidth": 1.3},
              "encoding": {
                "x": {"field": "e", "type": "quantitative",
                  "scale": {"type": "log", "domain": [0.00263, 74100], "nice": false},
                  "axis": {"orient": "bottom", "tickCount": 30, "labels": false, "domain": false, "title": null, "grid": true, "gridColor": "#e6e6e6", "gridWidth": 0.7, "tickWidth": 0.8,
                    "tickSize": {"condition": [{"test": "abs(log(datum.value)/LN10-round(log(datum.value)/LN10))<0.01", "value": -10}, {"test": "abs(datum.value/pow(10,floor(log(datum.value)/LN10+0.0001))-5)<0.01", "value": -6.5}], "value": -3.5}}},
                "y": {"field": "t", "type": "quantitative",
                  "scale": {"type": "log", "domain": [0.0708, 141.3], "nice": false},
                  "axis": {"orient": "left", "tickCount": 20, "labels": false, "domain": false, "title": null, "grid": true, "gridColor": "#e6e6e6", "gridWidth": 0.7, "tickWidth": 0.8,
                    "tickSize": {"condition": [{"test": "abs(log(datum.value)/LN10-round(log(datum.value)/LN10))<0.01", "value": -10}, {"test": "abs(datum.value/pow(10,floor(log(datum.value)/LN10+0.0001))-5)<0.01", "value": -6.5}], "value": -3.5}}}
              }
            }
          ]
        },
        {
          "width": 150, "height": 331,
          "resolve": {"axis": {"x": "independent", "y": "independent"}},
          "layer": [
            {
              "data": {"name": "spl"},
              "mark": {"type": "circle", "size": 26, "fill": "black", "fillOpacity": 0.24, "stroke": "black", "strokeOpacity": 0.3, "strokeWidth": 0.7},
              "encoding": {
                "x": {"field": "e", "type": "quantitative",
                  "scale": {"type": "log", "domain": [4.57e-6, 14100], "nice": false},
                  "axis": {"orient": "bottom", "values": [0.0001, 0.01, 1, 100, 10000], "title": "Estimated values", "titlePadding": 1, "grid": true, "gridColor": "#e2e2e2", "gridWidth": 1, "tickSize": 4.5, "tickWidth": 1,
                    "labelExpr": "'10'+replace(replace(replace(replace(replace(replace(replace(replace(''+round(log(datum.value)/LN10*2)/2,'-','⁻'),'.','·'),'0','⁰'),'1','¹'),'2','²'),'3','³'),'4','⁴'),'5','⁵')"}},
                "y": {"field": "t", "type": "quantitative",
                  "scale": {"type": "log", "domain": [0.794, 125.9], "nice": false},
                  "axis": {"orient": "left", "values": [1, 3.16227766, 10, 31.6227766, 100], "title": null, "grid": true, "gridColor": "#e2e2e2", "gridWidth": 1, "tickSize": 4.5, "tickWidth": 1,
                    "labelExpr": "'10'+replace(replace(replace(replace(replace(replace(replace(replace(''+round(log(datum.value)/LN10*2)/2,'-','⁻'),'.','·'),'0','⁰'),'1','¹'),'2','²'),'3','³'),'4','⁴'),'5','⁵')"}}
              }
            },
            {
              "data": {"values": [{"e": 0.794, "t": 0.794}, {"e": 125.9, "t": 125.9}]},
              "mark": {"type": "line", "color": "red", "strokeWidth": 1.3},
              "encoding": {
                "x": {"field": "e", "type": "quantitative",
                  "scale": {"type": "log", "domain": [4.57e-6, 14100], "nice": false},
                  "axis": {"orient": "bottom", "tickCount": 30, "labels": false, "domain": false, "title": null, "grid": true, "gridColor": "#e6e6e6", "gridWidth": 0.7, "tickWidth": 0.8,
                    "tickSize": {"condition": [{"test": "abs(log(datum.value)/LN10-round(log(datum.value)/LN10))<0.01", "value": -10}, {"test": "abs(datum.value/pow(10,floor(log(datum.value)/LN10+0.0001))-5)<0.01", "value": -6.5}], "value": -3.5}}},
                "y": {"field": "t", "type": "quantitative",
                  "scale": {"type": "log", "domain": [0.794, 125.9], "nice": false},
                  "axis": {"orient": "left", "tickCount": 20, "labels": false, "domain": false, "title": null, "grid": true, "gridColor": "#e6e6e6", "gridWidth": 0.7, "tickWidth": 0.8,
                    "tickSize": {"condition": [{"test": "abs(log(datum.value)/LN10-round(log(datum.value)/LN10))<0.01", "value": -10}, {"test": "abs(datum.value/pow(10,floor(log(datum.value)/LN10+0.0001))-5)<0.01", "value": -6.5}], "value": -3.5}}}
              }
            }
          ]
        },
        {
          "width": 150, "height": 331,
          "resolve": {"axis": {"x": "independent", "y": "independent"}},
          "layer": [
            {
              "data": {"name": "hl"},
              "mark": {"type": "circle", "size": 26, "fill": "black", "fillOpacity": 0.24, "stroke": "black", "strokeOpacity": 0.3, "strokeWidth": 0.7},
              "encoding": {
                "x": {"field": "e", "type": "quantitative",
                  "scale": {"type": "log", "domain": [4.37e-6, 186000], "nice": false},
                  "axis": {"orient": "bottom", "values": [0.0001, 0.01, 1, 100, 10000], "title": null, "grid": true, "gridColor": "#e2e2e2", "gridWidth": 1, "tickSize": 4.5, "tickWidth": 1,
                    "labelExpr": "'10'+replace(replace(replace(replace(replace(replace(replace(replace(''+round(log(datum.value)/LN10*2)/2,'-','⁻'),'.','·'),'0','⁰'),'1','¹'),'2','²'),'3','³'),'4','⁴'),'5','⁵')"}},
                "y": {"field": "t", "type": "quantitative",
                  "scale": {"type": "log", "domain": [7.94, 1259], "nice": false},
                  "axis": {"orient": "left", "values": [10, 31.6227766, 100, 316.227766, 1000], "title": null, "grid": true, "gridColor": "#e2e2e2", "gridWidth": 1, "tickSize": 4.5, "tickWidth": 1,
                    "labelExpr": "'10'+replace(replace(replace(replace(replace(replace(replace(replace(''+round(log(datum.value)/LN10*2)/2,'-','⁻'),'.','·'),'0','⁰'),'1','¹'),'2','²'),'3','³'),'4','⁴'),'5','⁵')"}}
              }
            },
            {
              "data": {"values": [{"e": 7.94, "t": 7.94}, {"e": 1259, "t": 1259}]},
              "mark": {"type": "line", "color": "red", "strokeWidth": 1.3},
              "encoding": {
                "x": {"field": "e", "type": "quantitative",
                  "scale": {"type": "log", "domain": [4.37e-6, 186000], "nice": false},
                  "axis": {"orient": "bottom", "tickCount": 30, "labels": false, "domain": false, "title": null, "grid": true, "gridColor": "#e6e6e6", "gridWidth": 0.7, "tickWidth": 0.8,
                    "tickSize": {"condition": [{"test": "abs(log(datum.value)/LN10-round(log(datum.value)/LN10))<0.01", "value": -10}, {"test": "abs(datum.value/pow(10,floor(log(datum.value)/LN10+0.0001))-5)<0.01", "value": -6.5}], "value": -3.5}}},
                "y": {"field": "t", "type": "quantitative",
                  "scale": {"type": "log", "domain": [7.94, 1259], "nice": false},
                  "axis": {"orient": "left", "tickCount": 20, "labels": false, "domain": false, "title": null, "grid": true, "gridColor": "#e6e6e6", "gridWidth": 0.7, "tickWidth": 0.8,
                    "tickSize": {"condition": [{"test": "abs(log(datum.value)/LN10-round(log(datum.value)/LN10))<0.01", "value": -10}, {"test": "abs(datum.value/pow(10,floor(log(datum.value)/LN10+0.0001))-5)<0.01", "value": -6.5}], "value": -3.5}}}
              }
            }
          ]
        }
      ]
    }
  ]
}
